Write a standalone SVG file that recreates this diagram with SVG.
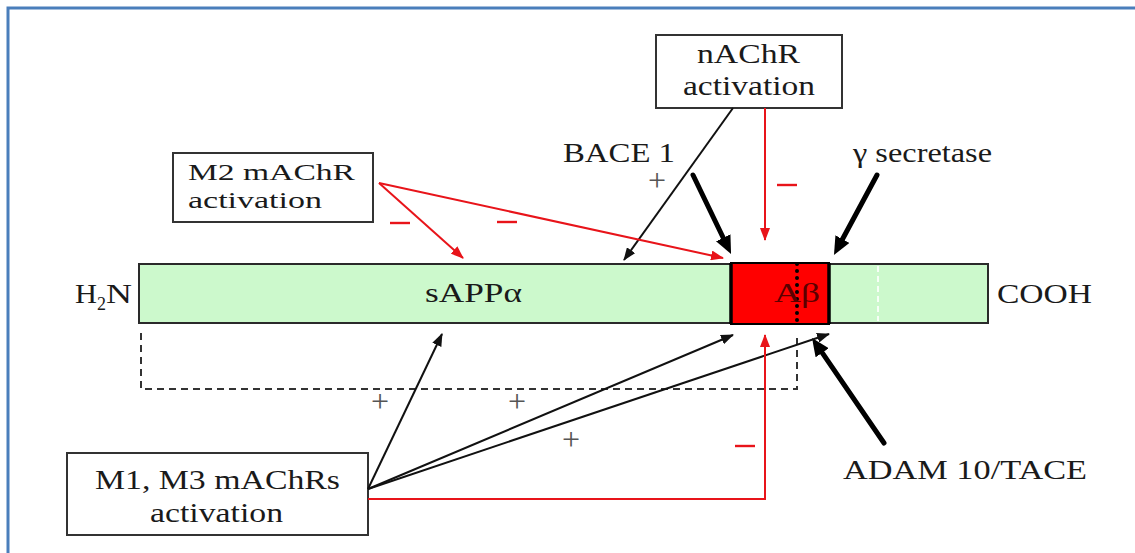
<svg xmlns="http://www.w3.org/2000/svg" width="1135" height="553" viewBox="0 0 1135 553">
  <style>
    .lbl { font-family: "Liberation Serif", "Times New Roman", serif; font-size: 28px; fill: #1a1a1a; }
    .lbl2 { font-family: "Liberation Serif", "Times New Roman", serif; font-size: 24px; fill: #1a1a1a; }
    .sign { font-family: "Liberation Serif", "Times New Roman", serif; font-size: 32px; fill: #555; text-anchor: middle; }
    .box { fill: #fff; stroke: #333; stroke-width: 2; }
    .thin { fill: none; stroke: #111; stroke-width: 2; }
    .thinred { fill: none; stroke: #e8141a; stroke-width: 2; }
    .thick { fill: none; stroke: #000; stroke-width: 5; stroke-linecap: round; }
    .minus { stroke: #e8141a; stroke-width: 2.4; }
  </style>
  <defs>
    <marker id="ab" markerUnits="userSpaceOnUse" markerWidth="13" markerHeight="10" refX="12" refY="5" orient="auto">
      <path d="M0,0 L13,5 L0,10 z" fill="#111"/>
    </marker>
    <marker id="ar" markerUnits="userSpaceOnUse" markerWidth="13" markerHeight="10" refX="12" refY="5" orient="auto">
      <path d="M0,0 L13,5 L0,10 z" fill="#e8141a"/>
    </marker>
    <marker id="at" markerUnits="userSpaceOnUse" markerWidth="18" markerHeight="16" refX="8" refY="8" orient="auto">
      <path d="M0,0 L18,8 L0,16 z" fill="#000"/>
    </marker>
  </defs>

  <!-- page frame -->
  <rect width="1135" height="553" fill="#fff"/>
  <path d="M8,553 V8 H1135" fill="none" stroke="#4a7ebb" stroke-width="3"/>

  <!-- APP protein bar -->
  <g id="app-bar">
    <rect x="139" y="264" width="849" height="59" fill="#ccf9cc" stroke="#2a2a2a" stroke-width="2"/>
    <rect x="731" y="263" width="98" height="61" fill="#ff0000" stroke="#000" stroke-width="2"/>
    <line x1="731" y1="263" x2="731" y2="324" stroke="#000" stroke-width="3.5"/>
    <line x1="829" y1="263" x2="829" y2="324" stroke="#000" stroke-width="3.5"/>
    <line x1="797" y1="264" x2="797" y2="323" stroke="#000" stroke-width="4" stroke-linecap="round" stroke-dasharray="0 7"/>
    <line x1="878" y1="266" x2="878" y2="321" stroke="#fff" stroke-width="2" stroke-dasharray="6 4" opacity="0.85"/>
    <text class="lbl" x="425" y="302" textLength="97" lengthAdjust="spacingAndGlyphs">sAPPα</text>
    <text class="lbl" x="774" y="302" textLength="46" lengthAdjust="spacingAndGlyphs" style="fill:#5a0000">Aβ</text>
  </g>

  <g id="h2n">
    <text class="lbl" x="75" y="303" textLength="22" lengthAdjust="spacingAndGlyphs">H</text>
    <text class="lbl" x="97" y="310" style="font-size:18px">2</text>
    <text class="lbl" x="106" y="303" textLength="26" lengthAdjust="spacingAndGlyphs">N</text>
  </g>
  <g id="cooh">
    <text class="lbl" x="997" y="303" textLength="95" lengthAdjust="spacingAndGlyphs">COOH</text>
  </g>

  <!-- regulator boxes -->
  <g id="m2">
    <rect class="box" x="173" y="153" width="200" height="69"/>
    <text class="lbl2" x="188" y="180" textLength="167" lengthAdjust="spacingAndGlyphs">M2 mAChR</text>
    <text class="lbl2" x="188" y="208" textLength="134" lengthAdjust="spacingAndGlyphs">activation</text>
  </g>
  <g id="nachr">
    <rect class="box" x="656" y="35" width="186" height="73"/>
    <text class="lbl" x="697" y="63" textLength="103" lengthAdjust="spacingAndGlyphs">nAChR</text>
    <text class="lbl" x="683" y="95" textLength="132" lengthAdjust="spacingAndGlyphs">activation</text>
  </g>
  <g id="m1m3">
    <rect class="box" x="67" y="453" width="301" height="82"/>
    <text class="lbl" x="95" y="489" textLength="245" lengthAdjust="spacingAndGlyphs">M1, M3 mAChRs</text>
    <text class="lbl" x="150" y="522" textLength="133" lengthAdjust="spacingAndGlyphs">activation</text>
  </g>

  <!-- enzyme labels -->
  <g id="bace1">
    <text class="lbl" x="563" y="162" textLength="112" lengthAdjust="spacingAndGlyphs">BACE 1</text>
  </g>
  <g id="gamma-secretase">
    <text class="lbl" x="853" y="162" textLength="139" lengthAdjust="spacingAndGlyphs">γ secretase</text>
  </g>
  <g id="adam10">
    <text class="lbl" x="843" y="479" textLength="244" lengthAdjust="spacingAndGlyphs">ADAM 10/TACE</text>
  </g>

  <!-- connectors -->
  <g id="connectors">
    <path d="M141,333 V389 H797 V333" fill="none" stroke="#333" stroke-width="2" stroke-dasharray="7 5"/>

    <line class="thick" x1="693" y1="175" x2="726.7" y2="245" marker-end="url(#at)"/>
    <line class="thick" x1="877" y1="175" x2="838.7" y2="246.2" marker-end="url(#at)"/>
    <line class="thick" x1="884" y1="443" x2="817.7" y2="346.2" marker-end="url(#at)"/>

    <line class="thin" x1="733" y1="108" x2="624" y2="260" marker-end="url(#ab)"/>
    <line class="thinred" x1="765" y1="108" x2="765" y2="240" marker-end="url(#ar)"/>

    <line class="thinred" x1="379" y1="183" x2="463" y2="258" marker-end="url(#ar)"/>
    <line class="thinred" x1="379" y1="183" x2="723" y2="258" marker-end="url(#ar)"/>

    <line class="thin" x1="368" y1="489" x2="442" y2="334" marker-end="url(#ab)"/>
    <line class="thin" x1="368" y1="489" x2="733" y2="335" marker-end="url(#ab)"/>
    <line class="thin" x1="368" y1="489" x2="829" y2="334" marker-end="url(#ab)"/>
    <path class="thinred" d="M368,499 H765 V335" marker-end="url(#ar)"/>

    <!-- effect signs -->
    <line class="minus" x1="390" y1="223" x2="410" y2="223"/>
    <line class="minus" x1="497" y1="222" x2="517" y2="222"/>
    <line class="minus" x1="777" y1="185" x2="797" y2="185"/>
    <line class="minus" x1="735" y1="446" x2="755" y2="446"/>
    <text class="sign" x="657" y="191">+</text>
    <text class="sign" x="380" y="412">+</text>
    <text class="sign" x="517" y="412">+</text>
    <text class="sign" x="571" y="450">+</text>
  </g>
</svg>
